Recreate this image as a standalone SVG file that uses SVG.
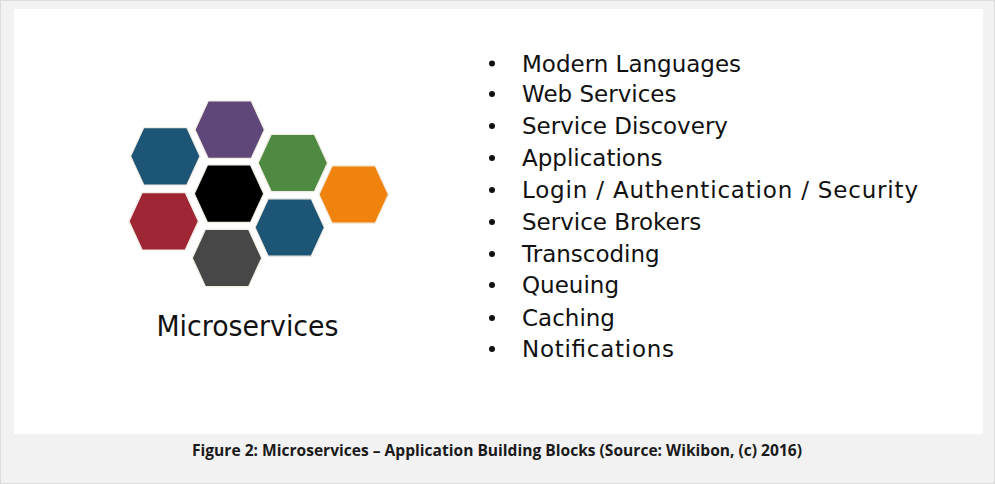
<svg xmlns="http://www.w3.org/2000/svg" width="995" height="484" viewBox="0 0 995 484">
<style>
.hex{stroke:#f1ece2;stroke-width:1.2}
.item{font-family:"DejaVu Sans","Liberation Sans",sans-serif;font-size:23px;fill:#111}
.bul{fill:#111}
</style>
<defs>
<polygon id="hx" points="-34.7,0 -21.5,-28.7 21.5,-28.7 34.7,0 21.5,28.7 -21.5,28.7"/>
</defs>
<rect x="0" y="0" width="995" height="484" fill="#f2f2f2"/>
<rect x="0.5" y="0.5" width="994" height="483" fill="none" stroke="#dcdcdc"/>
<rect x="14" y="9" width="969" height="425" fill="#ffffff"/>
<g id="hexagons">
<use id="hex-blue1" href="#hx" class="hex" fill="#1d5577" transform="translate(165.3,156.3)"/>
<use id="hex-purple" href="#hx" class="hex" fill="#5f4879" transform="translate(229.7,129.7)"/>
<use id="hex-green" href="#hx" class="hex" fill="#4f8a42" transform="translate(292.8,163)"/>
<use id="hex-black" href="#hx" class="hex" fill="#000000" transform="translate(229,193.7)"/>
<use id="hex-orange" href="#hx" class="hex" fill="#f0820e" transform="translate(353.7,194.5)"/>
<use id="hex-red" href="#hx" class="hex" fill="#9e2635" transform="translate(163.7,221.3)"/>
<use id="hex-blue2" href="#hx" class="hex" fill="#1d5577" transform="translate(289.7,227.5)"/>
<use id="hex-gray" href="#hx" class="hex" fill="#474747" transform="translate(227,258)"/>
</g>
<text id="title" x="156.5" y="336" font-family="DejaVu Sans, Liberation Sans, sans-serif" font-size="28" fill="#111" textLength="182" lengthAdjust="spacingAndGlyphs">Microservices</text>
<g id="list">
<g class="bul">
<circle cx="492" cy="63.5" r="3"/>
<circle cx="492" cy="94" r="3"/>
<circle cx="492" cy="126" r="3"/>
<circle cx="492" cy="158" r="3"/>
<circle cx="492" cy="190" r="3"/>
<circle cx="492" cy="222" r="3"/>
<circle cx="492" cy="254" r="3"/>
<circle cx="492" cy="285" r="3"/>
<circle cx="492" cy="318" r="3"/>
<circle cx="492" cy="349" r="3"/>
</g>
<text class="item" x="522" y="71.5">Modern Languages</text>
<text class="item" x="522" y="102">Web Services</text>
<text class="item" x="522" y="134">Service Discovery</text>
<text class="item" x="522" y="166">Applications</text>
<text class="item" x="522" y="198" textLength="396">Login / Authentication / Security</text>
<text class="item" x="522" y="230">Service Brokers</text>
<text class="item" x="522" y="262">Transcoding</text>
<text class="item" x="522" y="293">Queuing</text>
<text class="item" x="522" y="326">Caching</text>
<text class="item" x="522" y="357" textLength="152">Notifications</text>
</g>
<text id="caption" x="497" y="455.5" text-anchor="middle" font-family="Open Sans, Liberation Sans, sans-serif" font-weight="bold" font-size="16.5" fill="#1a1a1a" textLength="610" lengthAdjust="spacingAndGlyphs">Figure 2: Microservices – Application Building Blocks (Source: Wikibon, (c) 2016)</text>
</svg>
